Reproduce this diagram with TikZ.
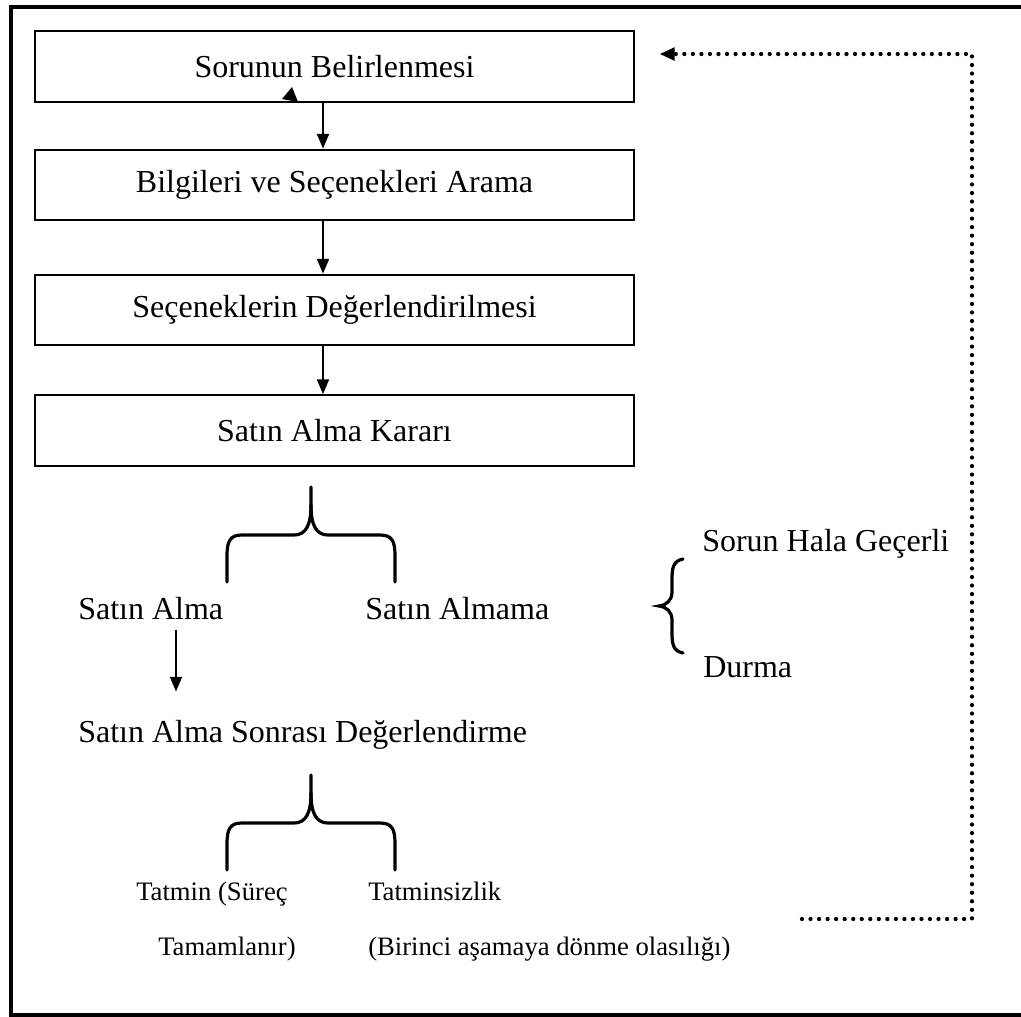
\documentclass[tikz,border=0pt]{standalone}
\usepackage{fontspec}
\setmainfont{Liberation Serif}
\usetikzlibrary{arrows.meta}
\begin{document}
\begin{tikzpicture}[x=0.75pt,y=-0.75pt,
  stepbox/.style={draw,line width=1.6pt,minimum width=449pt,minimum height=53pt,
    inner sep=0pt,font=\fontsize{24}{28}\selectfont},
  bigtxt/.style={anchor=base west,inner sep=0pt,font=\fontsize{24}{28}\selectfont},
  smalltxt/.style={anchor=base west,inner sep=0pt,font=\fontsize{20}{24}\selectfont},
  flow/.style={line width=1.2pt,-{Triangle[length=11pt,width=9pt]}},
  brace/.style={line width=2.4pt,line cap=round},
  back/.style={line width=3.2pt,line cap=round,dash pattern=on 0pt off 6.4pt}]
\useasboundingbox (0,0) rectangle (1021,1017);
% outer frame (its right side lies beyond the page)
\draw[line width=2.4pt] (1021,7) -- (11,7) -- (11,1015) -- (1021,1015);

% process boxes
\node[stepbox] (b1) at (334.5,66.5) {Sorunun Belirlenmesi};
\node[stepbox] (b2) at (334.5,185) {Bilgileri ve Seçenekleri Arama};
\node[stepbox] (b3) at (334.5,310) {Seçeneklerin Değerlendirilmesi};
\node[stepbox] (b4) at (334.5,430.5) {Satın Alma Kararı};

\coordinate (ax) at (323,0);
\draw[flow] (b1.south -| ax) -- (b2.north -| ax);
\draw[flow] (b2.south -| ax) -- (b3.north -| ax);
\draw[flow] (b3.south -| ax) -- (b4.north -| ax);

% stray arrow tip under the first box
\fill (282,99) -- (292,87) -- (298,102) -- cycle;

% return path to the first step
\coordinate (r0) at (802,919);
\coordinate (r1) at (972,919);
\coordinate (r2) at (972,54);
\coordinate (r3) at (674,54);
\coordinate (tip) at (660,54);
\draw[back] (r0) -- (r1) -- (r2) -- (r3);
\draw[line width=1pt,-{Triangle[length=11pt,width=10pt]}] (r3) -- (tip);

% first split
\draw[brace] (227,582) -- (227,556) .. controls (227,541) and (230,535) .. (242,535)
  -- (294,535) .. controls (306,535) and (311,525) .. (311,505) -- (311,487);
\draw[brace] (395,582) -- (395,556) .. controls (395,541) and (392,535) .. (380,535)
  -- (328,535) .. controls (316,535) and (311,525) .. (311,505);

\node[bigtxt] (buy) at (78,619) {Satın Alma};
\node[bigtxt] (nobuy) at (365,619) {Satın Almama};

% outcomes of not buying
\draw[brace] (683,559) .. controls (673,561) and (672,568) .. (672,580) -- (672,592)
  .. controls (672,600) and (667,605) .. (659,606)
  .. controls (667,607) and (672,612) .. (672,620) -- (672,632)
  .. controls (672,644) and (673,651) .. (683,653);
\node[bigtxt] (still) at (702,551) {Sorun Hala Geçerli};
\node[bigtxt] (stop) at (703,677) {Durma};

% post-purchase evaluation
\node[bigtxt] (post) at (78,742) {Satın Alma Sonrası Değerlendirme};
\coordinate (bx) at (176,0);
\draw[flow] ([yshift=-8pt]buy.base -| bx) -- ([yshift=21pt]post.north -| bx);

% second split
\draw[brace] (227,870) -- (227,844) .. controls (227,829) and (230,823) .. (242,823)
  -- (294,823) .. controls (306,823) and (311,813) .. (311,793) -- (311,775);
\draw[brace] (395,870) -- (395,844) .. controls (395,829) and (392,823) .. (380,823)
  -- (328,823) .. controls (316,823) and (311,813) .. (311,793);

\node[smalltxt] (sat1) at (136,900) {Tatmin (Süreç};
\node[smalltxt] (sat2) at (158,955) {Tamamlanır)};
\node[smalltxt] (dis1) at (368,900) {Tatminsizlik};
\node[smalltxt] (dis2) at (368,955) {(Birinci aşamaya dönme olasılığı)};
\end{tikzpicture}
\end{document}
